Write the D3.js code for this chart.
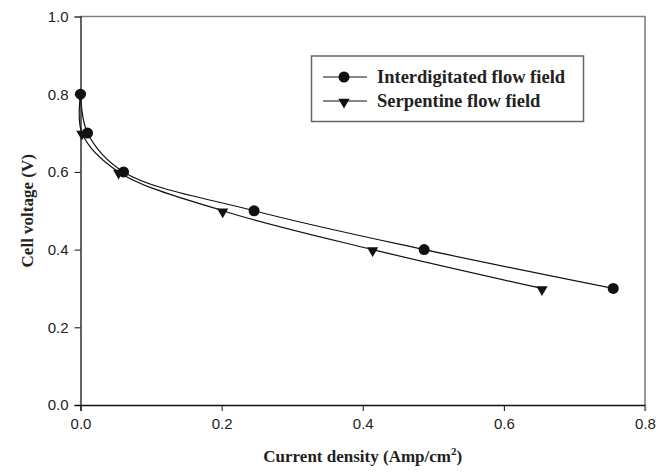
<!DOCTYPE html>
<html>
<head>
<meta charset="utf-8">
<script src="https://cdn.jsdelivr.net/npm/d3@7"></script>
<style>
  body { margin: 0; background: #fff; }
  svg { display: block; }
</style>
</head>
<body>
<svg id="chart" width="667" height="473"></svg>
<script>
// values
var interX = [0, 0.01, 0.061, 0.246, 0.487, 0.755];
var interY = [0.8, 0.7, 0.6, 0.5, 0.4, 0.3];
var serpX = [0, 0.002, 0.054, 0.2015, 0.414, 0.654];
var serpY = [0.8, 0.7, 0.6, 0.5, 0.4, 0.3];
var xTicks = [0, 0.2, 0.4, 0.6, 0.8];
var yTicks = [0, 0.2, 0.4, 0.6, 0.8, 1.0];
var seriesNames = ["Interdigitated flow field", "Serpentine flow field"];

var plotL = 80.5, plotR = 645, plotT = 16.5, plotB = 405;

var svg = d3.select("#chart");
var x = d3.scaleLinear().domain([0, 0.8]).range([plotL, plotR]);
var y = d3.scaleLinear().domain([0, 1]).range([plotB, plotT]);

// gray frame on top and right
svg.append("path")
    .attr("d", "M" + plotL + "," + plotT + "H" + plotR + "V" + (plotB + 6))
    .attr("fill", "none")
    .attr("stroke", "#808080")
    .attr("stroke-width", 1.6);

var xAxis = svg.append("g")
    .attr("transform", "translate(0," + plotB + ")")
    .call(d3.axisBottom(x).tickValues(xTicks).tickFormat(d3.format(".1f")).tickSizeOuter(0).tickSize(6).tickPadding(7));
var yAxis = svg.append("g")
    .attr("transform", "translate(" + plotL + ",0)")
    .call(d3.axisLeft(y).tickValues(yTicks).tickFormat(d3.format(".1f")).tickSizeOuter(0).tickSize(6).tickPadding(6));

[xAxis, yAxis].forEach(function (a) {
    a.select(".domain").attr("stroke", "#111").attr("stroke-width", 1.3);
    a.selectAll(".tick line").attr("stroke", "#111").attr("stroke-width", 1);
    a.selectAll(".tick text")
        .attr("fill", "#222")
        .style("font", "15px 'Liberation Sans', Arial, sans-serif");
});
// top tick of the y axis sits on the gray frame
yAxis.selectAll(".tick line").filter(function (d) { return d === 1; }).attr("stroke", "#808080");
xAxis.selectAll(".tick line").filter(function (d) { return d === 0.8; }).attr("stroke", "#808080");

// axis titles
svg.append("text")
    .attr("x", (plotL + plotR) / 2)
    .attr("y", 462)
    .attr("text-anchor", "middle")
    .style("font", "bold 17px 'Liberation Serif', 'Times New Roman', serif")
    .attr("fill", "#222")
    .call(function (t) {
        t.append("tspan").text("Current density (Amp/cm");
        t.append("tspan").attr("dy", -7).style("font-size", "11px").text("2");
        t.append("tspan").attr("dy", 7).text(")");
    });

svg.append("text")
    .attr("transform", "translate(33," + ((plotT + plotB) / 2) + ") rotate(-90)")
    .attr("text-anchor", "middle")
    .style("font", "bold 17px 'Liberation Serif', 'Times New Roman', serif")
    .attr("fill", "#222")
    .text("Cell voltage (V)");

// series
var line = d3.line()
    .x(function (d) { return x(d[0]); })
    .y(function (d) { return y(d[1]); })
    .curve(d3.curveCatmullRom.alpha(0.5));

var interData = interX.map(function (v, i) { return [v, interY[i]]; });
var serpData = serpX.map(function (v, i) { return [v, serpY[i]]; });

svg.append("path").datum(interData)
    .attr("d", line).attr("fill", "none").attr("stroke", "#111").attr("stroke-width", 1.2);
svg.append("path").datum(serpData)
    .attr("d", line).attr("fill", "none").attr("stroke", "#111").attr("stroke-width", 1.2);

var circ = d3.symbol().type(d3.symbolCircle).size(95);
var tri = d3.symbol().type(d3.symbolTriangle).size(55);

svg.selectAll(".sp").data(serpData).enter().append("path")
    .attr("class", "sp")
    .attr("d", tri)
    .attr("transform", function (d) { return "translate(" + x(d[0]) + "," + (y(d[1]) + 1) + ") rotate(180)"; })
    .attr("fill", "#111");
svg.selectAll(".ip").data(interData).enter().append("path")
    .attr("class", "ip")
    .attr("d", circ)
    .attr("transform", function (d) { return "translate(" + x(d[0]) + "," + y(d[1]) + ")"; })
    .attr("fill", "#111");

// legend
var lg = svg.append("g");
lg.append("rect")
    .attr("x", 311.5).attr("y", 56).attr("width", 272).attr("height", 65.5)
    .attr("fill", "#fff").attr("stroke", "#666").attr("stroke-width", 1.5);
var rows = [{ y: 77, sym: circ, rot: 0 }, { y: 101, sym: tri, rot: 180 }];
rows.forEach(function (r, i) {
    lg.append("line").attr("x1", 323).attr("x2", 367).attr("y1", r.y).attr("y2", r.y)
        .attr("stroke", "#111").attr("stroke-width", 1.2);
    lg.append("path").attr("d", r.sym)
        .attr("transform", "translate(344," + (r.y + (i ? 1 : 0)) + ") rotate(" + r.rot + ")")
        .attr("fill", "#111");
    lg.append("text")
        .attr("x", 377).attr("y", r.y + 6)
        .style("font", "bold 18.5px 'Liberation Serif', 'Times New Roman', serif")
        .attr("fill", "#222")
        .text(seriesNames[i]);
});
</script>
</body>
</html>
